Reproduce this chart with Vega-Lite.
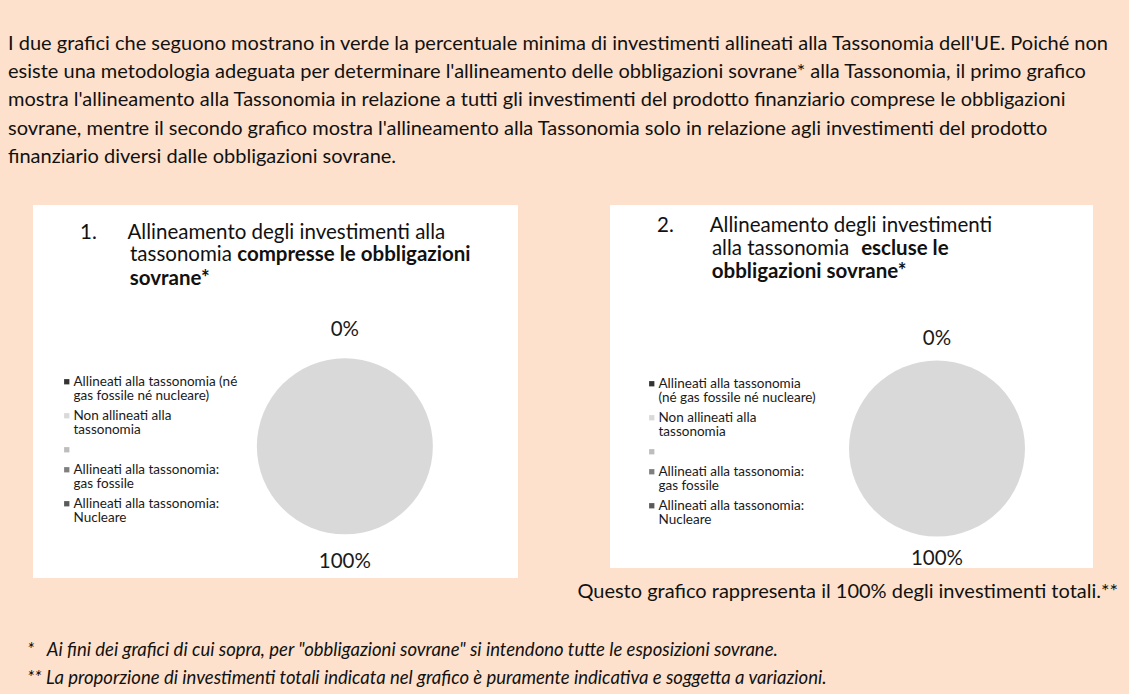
{
  "$schema": "https://vega.github.io/schema/vega-lite/v6.json",
  "background": "#fde1cc",
  "padding": {"left": 8, "right": 11, "top": 33, "bottom": 10},
  "title": {
    "text": [
      "I due grafici che seguono mostrano in verde la percentuale minima di investimenti allineati alla Tassonomia dell'UE. Poiché non",
      "esiste una metodologia adeguata per determinare l'allineamento delle obbligazioni sovrane* alla Tassonomia, il primo grafico",
      "mostra l'allineamento alla Tassonomia in relazione a tutti gli investimenti del prodotto finanziario comprese le obbligazioni",
      "sovrane, mentre il secondo grafico mostra l'allineamento alla Tassonomia solo in relazione agli investimenti del prodotto",
      "finanziario diversi dalle obbligazioni sovrane."
    ],
    "anchor": "start",
    "dx": -19,
    "font": "Lato",
    "fontSize": 20,
    "fontWeight": "normal",
    "color": "#111111",
    "lineHeight": 28.3,
    "offset": 38,
    "limit": 1200
  },
  "vconcat": [
    {
      "title": {
        "text": [
          "*\u00a0\u00a0\u00a0Ai fini dei grafici di cui sopra, per \"obbligazioni sovrane\" si intendono tutte le esposizioni sovrane.",
          "** La proporzione di investimenti totali indicata nel grafico è puramente indicativa e soggetta a variazioni."
        ],
        "orient": "bottom",
        "anchor": "start",
        "dx": -6,
        "font": "Lato",
        "fontSize": 18.5,
        "fontStyle": "italic",
        "fontWeight": "normal",
        "color": "#111111",
        "lineHeight": 28,
        "offset": 39,
        "limit": 1200
      },
      "spacing": 59,
      "resolve": {"scale": {"color": "independent"}, "legend": {"color": "independent"}},
      "hconcat": [
        {
          "width": 485,
          "height": 373,
          "view": {"fill": "white", "stroke": null},
          "title": {
            "text": "1.\u00a0\u00a0\u00a0\u00a0\u00a0\u00a0Allineamento degli investimenti alla",
            "subtitle": "\u200b\u00a0\u00a0\u00a0\u00a0\u00a0\u00a0\u00a0\u00a0\u00a0\u00a0sovrane*",
            "anchor": "start",
            "frame": "group",
            "dx": 47,
            "offset": -84,
            "font": "Lato",
            "fontSize": 20.5,
            "fontWeight": "normal",
            "color": "#111111",
            "subtitleFont": "Lato",
            "subtitleFontSize": 20.5,
            "subtitleFontWeight": "bold",
            "subtitleColor": "#111111",
            "subtitlePadding": 25.5
          },
          "layer": [
            {
              "data": {"values": [
                {"categoria": "Allineati alla tassonomia (né gas fossile né nucleare)", "quota": 0},
                {"categoria": "Non allineati alla tassonomia", "quota": 1}
              ]},
              "mark": {"type": "arc", "outerRadius": 88},
              "encoding": {
                "theta": {"field": "quota", "type": "quantitative", "stack": true},
                "x": {"datum": 0.643, "type": "quantitative", "scale": {"domain": [0, 1]}, "axis": null},
                "y": {"datum": 0.647, "type": "quantitative", "scale": {"domain": [0, 1], "reverse": true}, "axis": null},
                "color": {
                  "field": "categoria",
                  "type": "nominal",
                  "scale": {
                    "domain": ["Allineati alla tassonomia (né gas fossile né nucleare)", "Non allineati alla tassonomia", "", "Allineati alla tassonomia: gas fossile", "Allineati alla tassonomia: Nucleare"],
                    "range": ["#333333", "#d9d9d9", "#bdbdbd", "#7f7f7f", "#5a5a5a"]
                  },
                  "legend": {
                    "orient": "none",
                    "legendX": 27,
                    "legendY": 170,
                    "title": null,
                    "padding": 0,
                    "symbolType": "square",
                    "symbolSize": 28,
                    "symbolStrokeWidth": 0,
                    "labelFont": "Lato",
                    "labelFontSize": 13.5,
                    "labelColor": "#1a1a1a",
                    "labelLimit": 300,
                    "labelOffset": 0,
                    "rowPadding": 5,
                    "labelExpr": "datum.label == 'Allineati alla tassonomia (né gas fossile né nucleare)' ? ['Allineati alla tassonomia (né', 'gas fossile né nucleare)'] : datum.label == 'Non allineati alla tassonomia' ? ['Non allineati alla', 'tassonomia'] : datum.label == 'Allineati alla tassonomia: gas fossile' ? ['Allineati alla tassonomia:', 'gas fossile'] : datum.label == 'Allineati alla tassonomia: Nucleare' ? ['Allineati alla tassonomia:', 'Nucleare'] : datum.label",
                    "encode": {"labels": {"update": {"lineHeight": {"value": 14.5}}}}
                  }
                }
              }
            },
            {
              "data": {"values": [
                {"categoria": "Allineati alla tassonomia (né gas fossile né nucleare)", "quota": 0},
                {"categoria": "Non allineati alla tassonomia", "quota": 1}
              ]},
              "mark": {"type": "text", "radius": 116, "font": "Lato", "fontSize": 20.5, "color": "#1a1a1a"},
              "encoding": {
                "theta": {"field": "quota", "type": "quantitative", "stack": true},
                "x": {"datum": 0.643, "type": "quantitative"},
                "y": {"datum": 0.647, "type": "quantitative"},
                "text": {"field": "quota", "type": "quantitative", "format": ".0%"}
              }
            },
            {
              "data": {"values": [{"riga": "tassonomia"}]},
              "mark": {"type": "text", "align": "left", "baseline": "middle", "font": "Lato", "fontSize": 20.5, "color": "#111111"},
              "encoding": {
                "x": {"datum": 0.2, "type": "quantitative"},
                "y": {"datum": 0.1337, "type": "quantitative"},
                "text": {"field": "riga"}
              }
            },
            {
              "data": {"values": [{"riga": "compresse le obbligazioni"}]},
              "mark": {"type": "text", "align": "left", "baseline": "middle", "font": "Lato", "fontSize": 20.5, "fontWeight": "bold", "color": "#111111"},
              "encoding": {
                "x": {"datum": 0.421, "type": "quantitative"},
                "y": {"datum": 0.1337, "type": "quantitative"},
                "text": {"field": "riga"}
              }
            }
          ]
        },
        {
          "resolve": {"scale": {"color": "independent"}, "legend": {"color": "independent"}},
          "title": {
            "text": "Questo grafico rappresenta il 100% degli investimenti totali.**",
            "orient": "bottom",
            "anchor": "end",
            "dx": 25,
            "offset": 13,
            "font": "Lato",
            "fontSize": 20,
            "fontWeight": "normal",
            "color": "#111111",
            "limit": 700
          },
          "vconcat": [
            {
              "width": 483,
              "height": 363,
              "view": {"fill": "white", "stroke": null},
              "title": {
                "text": "2.\u00a0\u00a0\u00a0\u00a0\u00a0\u00a0\u00a0Allineamento degli investimenti",
                "subtitle": "\u200b\u00a0\u00a0\u00a0\u00a0\u00a0\u00a0\u00a0\u00a0\u00a0\u00a0\u00a0obbligazioni sovrane*",
                "anchor": "start",
                "frame": "group",
                "dx": 47,
                "offset": -77,
                "font": "Lato",
                "fontSize": 20.5,
                "fontWeight": "normal",
                "color": "#111111",
                "subtitleFont": "Lato",
                "subtitleFontSize": 20.5,
                "subtitleFontWeight": "bold",
                "subtitleColor": "#111111",
                "subtitlePadding": 25.5
              },
              "layer": [
                {
                  "data": {"values": [
                    {"categoria": "Allineati alla tassonomia (né gas fossile né nucleare)", "quota": 0},
                    {"categoria": "Non allineati alla tassonomia", "quota": 1}
                  ]},
                  "mark": {"type": "arc", "outerRadius": 88},
                  "encoding": {
                    "theta": {"field": "quota", "type": "quantitative", "stack": true},
                    "x": {"datum": 0.677, "type": "quantitative", "scale": {"domain": [0, 1]}, "axis": null},
                    "y": {"datum": 0.671, "type": "quantitative", "scale": {"domain": [0, 1], "reverse": true}, "axis": null},
                    "color": {
                      "field": "categoria",
                      "type": "nominal",
                      "scale": {
                        "domain": ["Allineati alla tassonomia (né gas fossile né nucleare)", "Non allineati alla tassonomia", "", "Allineati alla tassonomia: gas fossile", "Allineati alla tassonomia: Nucleare"],
                        "range": ["#333333", "#d9d9d9", "#bdbdbd", "#7f7f7f", "#5a5a5a"]
                      },
                      "legend": {
                        "orient": "none",
                        "legendX": 35,
                        "legendY": 172,
                        "title": null,
                        "padding": 0,
                        "symbolType": "square",
                        "symbolSize": 28,
                        "symbolStrokeWidth": 0,
                        "labelFont": "Lato",
                        "labelFontSize": 13.5,
                        "labelColor": "#1a1a1a",
                        "labelLimit": 300,
                        "labelOffset": 0,
                        "rowPadding": 5,
                        "labelExpr": "datum.label == 'Allineati alla tassonomia (né gas fossile né nucleare)' ? ['Allineati alla tassonomia', '(né gas fossile né nucleare)'] : datum.label == 'Non allineati alla tassonomia' ? ['Non allineati alla', 'tassonomia'] : datum.label == 'Allineati alla tassonomia: gas fossile' ? ['Allineati alla tassonomia:', 'gas fossile'] : datum.label == 'Allineati alla tassonomia: Nucleare' ? ['Allineati alla tassonomia:', 'Nucleare'] : datum.label",
                        "encode": {"labels": {"update": {"lineHeight": {"value": 14.5}}}}
                      }
                    }
                  }
                },
                {
                  "data": {"values": [
                    {"categoria": "Allineati alla tassonomia (né gas fossile né nucleare)", "quota": 0},
                    {"categoria": "Non allineati alla tassonomia", "quota": 1}
                  ]},
                  "mark": {"type": "text", "radius": 110, "font": "Lato", "fontSize": 20.5, "color": "#1a1a1a"},
                  "encoding": {
                    "theta": {"field": "quota", "type": "quantitative", "stack": true},
                    "x": {"datum": 0.677, "type": "quantitative"},
                    "y": {"datum": 0.671, "type": "quantitative"},
                    "text": {"field": "quota", "type": "quantitative", "format": ".0%"}
                  }
                },
                {
                  "data": {"values": [{"riga": "alla tassonomia"}]},
                  "mark": {"type": "text", "align": "left", "baseline": "middle", "font": "Lato", "fontSize": 20.5, "color": "#111111"},
                  "encoding": {
                    "x": {"datum": 0.211, "type": "quantitative"},
                    "y": {"datum": 0.121, "type": "quantitative"},
                    "text": {"field": "riga"}
                  }
                },
                {
                  "data": {"values": [{"riga": "escluse le"}]},
                  "mark": {"type": "text", "align": "left", "baseline": "middle", "font": "Lato", "fontSize": 20.5, "fontWeight": "bold", "color": "#111111"},
                  "encoding": {
                    "x": {"datum": 0.52, "type": "quantitative"},
                    "y": {"datum": 0.121, "type": "quantitative"},
                    "text": {"field": "riga"}
                  }
                }
              ]
            }
          ]
        }
      ]
    }
  ],
  "config": {"view": {"stroke": null}}
}
